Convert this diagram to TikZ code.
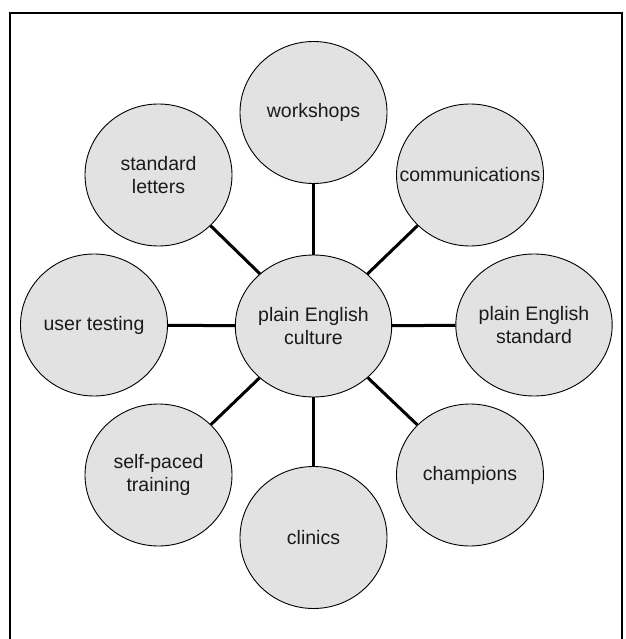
\documentclass[tikz,border=0pt]{standalone}
\usepackage{fontspec}
\setmainfont{Liberation Sans}
\usetikzlibrary{shapes.geometric}
\definecolor{bubblefill}{HTML}{E2E2E2}
\definecolor{txt}{HTML}{1A1A1A}
\tikzset{
  bubble/.style={ellipse, draw=black, line width=0.9bp, fill=bubblefill,
    minimum width=147bp, minimum height=142bp, inner sep=0pt, align=center,
    text=txt, font=\fontsize{19.5bp}{23bp}\selectfont},
  spoke/.style={line width=3bp, black}
}
\begin{document}
\begin{tikzpicture}[x=1bp,y=-1bp]
\useasboundingbox (0,0) rectangle (626,639);
\begin{scope}
\clip (0,0) rectangle (626,639);
\draw[line width=2.5bp] (10,660) -- (10,13) -- (622,13) -- (622,660);
\end{scope}
\node[bubble] (c) at (313.5,326) {plain English\\culture};
\node[bubble] (n) at (313.5,112.5) {workshops};
\node[bubble] (ne) at (470,175) {\makebox[0pt][c]{communications}};
\node[bubble] (e) at (534,325) {plain English\\standard};
\node[bubble] (se) at (470,475) {champions};
\node[bubble] (s) at (313.5,537.5) {clinics};
\node[bubble] (sw) at (158.5,475) {self-paced\\training};
\node[bubble] (w) at (94,325) {user testing};
\node[bubble] (nw) at (158.5,175) {standard\\letters};
\foreach \t in {n,ne,e,se,s,sw,w,nw}{\draw[spoke] (c) -- (\t);}
\end{tikzpicture}
\end{document}
